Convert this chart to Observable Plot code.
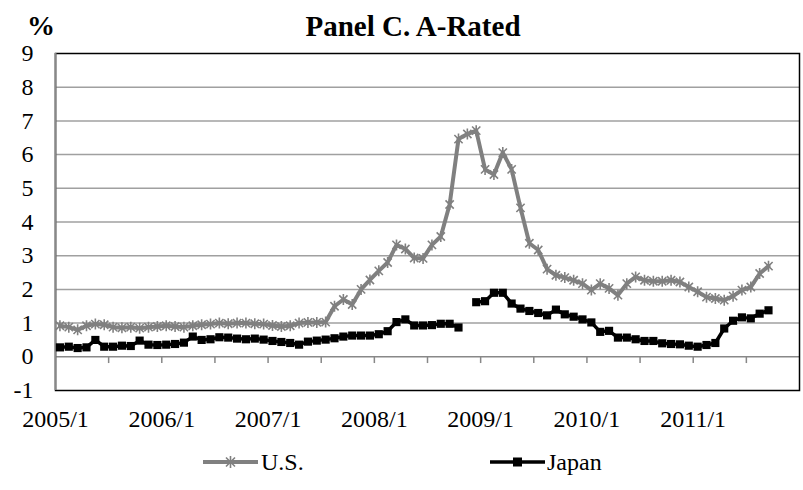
<!DOCTYPE html>
<html><head><meta charset="utf-8">
<script src="https://cdn.jsdelivr.net/npm/d3@7"></script>
<script src="https://cdn.jsdelivr.net/npm/@observablehq/plot@0.6"></script>
<style>
body{margin:0;background:#fff;}
#wrap{position:relative;width:803px;height:490px;font-family:"Liberation Serif","Times New Roman",serif;color:#000;}
#chart{position:absolute;left:0;top:0;}
.lbl{position:absolute;font-weight:bold;white-space:nowrap;}
#legend{position:absolute;left:0;top:440px;}
</style>
</head><body><div id="wrap"><div id="chart"></div>
<div class="lbl" id="pct" style="left:27px;top:12px;font-size:28px;line-height:28px;">%</div>
<div class="lbl" id="title" style="left:413px;top:12px;font-size:29px;line-height:28px;transform:translateX(-50%);">Panel C. A-Rated</div>
<svg id="legend" width="803" height="45"></svg>
</div>
<script>
// Monthly categories 2005/1 .. 2011/9
const months = [
 "2005/1","2005/2","2005/3","2005/4","2005/5","2005/6","2005/7","2005/8","2005/9","2005/10","2005/11","2005/12",
 "2006/1","2006/2","2006/3","2006/4","2006/5","2006/6","2006/7","2006/8","2006/9","2006/10","2006/11","2006/12",
 "2007/1","2007/2","2007/3","2007/4","2007/5","2007/6","2007/7","2007/8","2007/9","2007/10","2007/11","2007/12",
 "2008/1","2008/2","2008/3","2008/4","2008/5","2008/6","2008/7","2008/8","2008/9","2008/10","2008/11","2008/12",
 "2009/1","2009/2","2009/3","2009/4","2009/5","2009/6","2009/7","2009/8","2009/9","2009/10","2009/11","2009/12",
 "2010/1","2010/2","2010/3","2010/4","2010/5","2010/6","2010/7","2010/8","2010/9","2010/10","2010/11","2010/12",
 "2011/1","2011/2","2011/3","2011/4","2011/5","2011/6","2011/7","2011/8","2011/9"
];
const usValues = [
 0.92,0.88,0.80,0.92,0.97,0.95,0.88,0.86,0.88,0.85,0.88,0.90,
 0.92,0.90,0.88,0.92,0.95,0.97,1.00,0.98,1.00,1.00,0.98,0.97,
 0.93,0.90,0.92,1.00,1.02,1.02,1.03,1.50,1.70,1.55,2.00,2.28,
 2.55,2.80,3.32,3.20,2.93,2.92,3.32,3.57,4.52,6.46,6.61,6.71,
 5.56,5.41,6.06,5.56,4.42,3.37,3.17,2.60,2.42,2.35,2.27,2.17,
 1.98,2.17,2.03,1.83,2.17,2.37,2.27,2.24,2.24,2.27,2.22,2.07,
 1.93,1.77,1.73,1.68,1.80,1.98,2.07,2.47,2.69
];
const japanValues = [
 0.28,0.30,0.26,0.28,0.50,0.30,0.30,0.33,0.32,0.48,0.36,0.35,
 0.36,0.38,0.42,0.60,0.50,0.52,0.58,0.57,0.54,0.52,0.54,0.51,
 0.47,0.44,0.41,0.36,0.45,0.48,0.51,0.55,0.60,0.63,0.63,0.63,
 0.67,0.76,1.03,1.11,0.93,0.93,0.94,0.98,0.98,0.87,null,1.62,
 1.65,1.90,1.90,1.58,1.43,1.36,1.30,1.23,1.40,1.26,1.19,1.11,
 1.02,0.74,0.77,0.57,0.57,0.52,0.47,0.47,0.40,0.38,0.37,0.33,
 0.30,0.35,0.41,0.84,1.07,1.17,1.14,1.28,1.38
];
const yTicks = [-1,0,1,2,3,4,5,6,7,8,9];
const tickLabels = ["2005/1","2006/1","2007/1","2008/1","2009/1","2010/1","2011/1"];
const seriesNames = ["U.S.","Japan"];
const colors = ["#808080","#000000"];

const labelPos = tickLabels.map(l => months.indexOf(l));      // category start positions
const minorTicks = d3.range(6, 84, 6);                          // tick marks every 6 months
const data = months.map((m, i) => ({m, pos: i + 0.5, us: usValues[i], jp: japanValues[i]}));
const FONT = "'Liberation Serif','Times New Roman',serif";

const excelStar = {draw(c, size){
  const r = Math.sqrt(size / Math.PI), d = r * 0.75;
  c.moveTo(0, -r); c.lineTo(0, r);
  c.moveTo(-d, -d); c.lineTo(d, d);
  c.moveTo(-d, d); c.lineTo(d, -d);
}};

const chart = Plot.plot({
  width: 803, height: 490,
  marginTop: 53, marginBottom: 100, marginLeft: 55, marginRight: 4,
  x: {type: "linear", domain: [0, 84], axis: null},
  y: {domain: [-1, 9], axis: null},
  style: {fontFamily: FONT, fontSize: "24px", color: "#000", background: "transparent", overflow: "visible"},
  marks: [
    Plot.ruleY(yTicks.filter(v => v > 0 && v < 9), {stroke: "#a0a0a0", strokeWidth: 1.5}),
    Plot.ruleX(minorTicks, {y1: 0, y2: -0.2, stroke: "#888888", strokeWidth: 1.5}),
    Plot.ruleY([0], {stroke: "#888888", strokeWidth: 1.5}),
    Plot.frame({stroke: "#000", strokeWidth: 1.5}),
    Plot.ruleX([0], {stroke: "#888888", strokeWidth: 2}),
    Plot.text(yTicks, {y: d => d, frameAnchor: "left", dx: -22, textAnchor: "end", text: d => String(d), fontSize: 24, fill: "#000"}),
    Plot.text(labelPos, {x: d => d, frameAnchor: "bottom", dy: 29, lineAnchor: "middle", text: d => tickLabels[labelPos.indexOf(d)], fontSize: 24, fill: "#000"}),
    Plot.line(data, {x: "pos", y: "us", stroke: colors[0], strokeWidth: 4, strokeLinejoin: "round"}),
    Plot.dot(data, {x: "pos", y: "us", symbol: excelStar, r: 5.5, stroke: colors[0], strokeWidth: 1.6, fill: "none"}),
    Plot.line(data, {x: "pos", y: "jp", stroke: colors[1], strokeWidth: 3.5, strokeLinejoin: "round"}),
    Plot.dot(data.filter(d => d.jp != null), {x: "pos", y: "jp", symbol: "square", r: 4.6, fill: colors[1], stroke: "none"})
  ]
});
document.getElementById("chart").appendChild(chart);

// Legend
const lg = d3.select("#legend");
const items = [{x1: 203, x2: 258, tx: 261}, {x1: 490, x2: 545, tx: 547}];
items.forEach((it, k) => {
  const cy = 22, cx = (it.x1 + it.x2) / 2;
  lg.append("line").attr("x1", it.x1).attr("x2", it.x2).attr("y1", cy).attr("y2", cy)
    .attr("stroke", colors[k]).attr("stroke-width", k === 0 ? 4 : 3.5);
  if (k === 0) {
    const r = 6, d = 4.5;
    lg.append("path").attr("d", `M${cx},${cy-r}L${cx},${cy+r}M${cx-d},${cy-d}L${cx+d},${cy+d}M${cx-d},${cy+d}L${cx+d},${cy-d}`)
      .attr("stroke", colors[0]).attr("stroke-width", 1.6).attr("fill", "none");
  } else {
    lg.append("rect").attr("x", cx - 4.5).attr("y", cy - 4.5).attr("width", 9).attr("height", 9).attr("fill", colors[1]);
  }
  lg.append("text").attr("x", it.tx).attr("y", cy).attr("dy", "0.35em")
    .attr("font-family", FONT).attr("font-size", 24)
    .text(seriesNames[k]);
});
</script></body></html>
